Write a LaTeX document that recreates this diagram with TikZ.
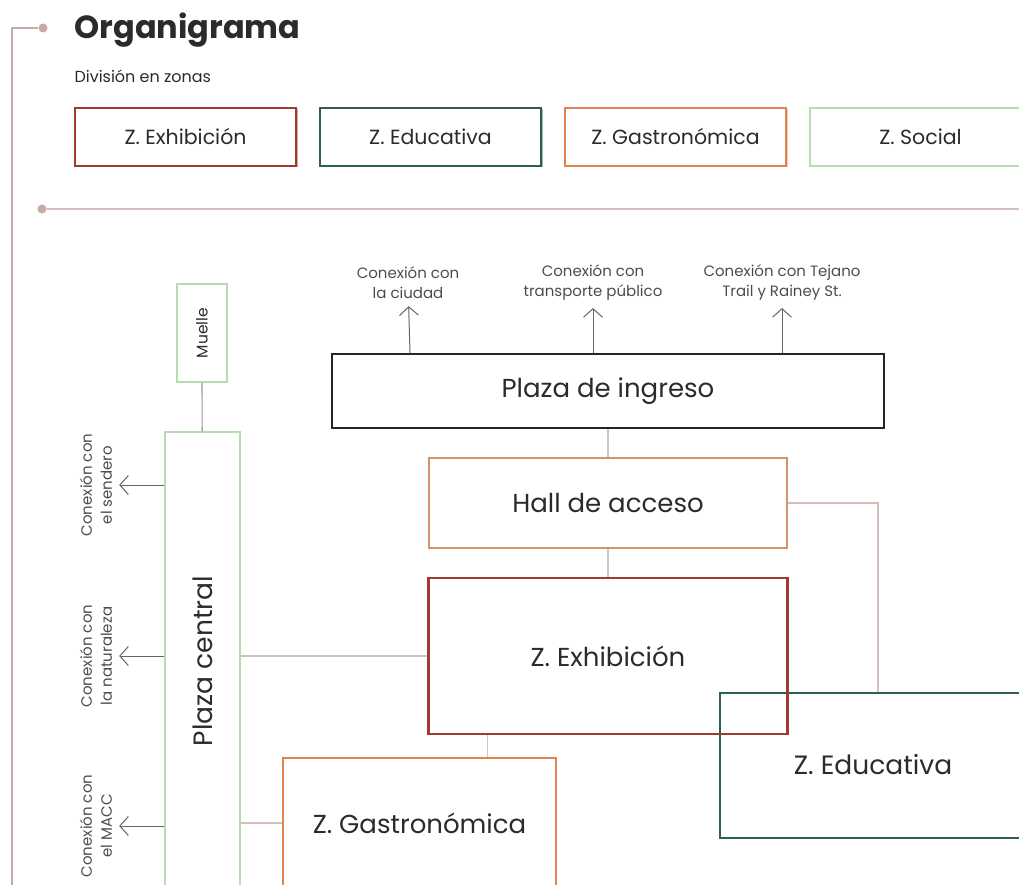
\documentclass[tikz,border=0pt]{standalone}
\usepackage{fontspec}
\setmainfont{Poppins}
\usetikzlibrary{positioning,arrows.meta,shadows}

\definecolor{exhib}{HTML}{9E3B2C}
\definecolor{educ}{HTML}{2F5D57}
\definecolor{gastro}{HTML}{E0854F}
\definecolor{social}{HTML}{B5DDB0}
\definecolor{hall}{HTML}{D4936B}
\definecolor{linea}{HTML}{D6C0BB}
\definecolor{deco}{HTML}{C9A9A3}
\definecolor{texto}{HTML}{2B2B2B}

\tikzset{
  zona/.style={draw=#1, line width=1.5pt, fill=white, minimum width=221pt,
    minimum height=58pt, text=texto, font=\fontsize{20.5}{24}\selectfont,
    drop shadow={shadow xshift=1.5pt, shadow yshift=-1.5pt, fill=#1, opacity=.45}},
  caja/.style={draw=#1, line width=1.5pt, text=texto, font=\fontsize{26}{30}\selectfont},
  conn/.style={draw=linea, line width=1.2pt},
  flecha/.style={draw=black!60, line width=1pt, ->, shorten >=5pt},
  lbl/.style={text=black!70, font=\fontsize{15}{20}\selectfont, align=center, inner sep=2pt},
  punto/.style={circle, fill=deco, inner sep=0pt, minimum size=9pt},
}

\begin{document}
\begin{tikzpicture}[x=1pt,y=-1pt,on grid,>={Straight Barb[length=8.5pt,width=19pt]}]
\useasboundingbox (0,0) rectangle (1019,885);
\clip (0,0) rectangle (1019,885);

% encabezado
\node[punto] (p_1) at (43,28) {};
\node[punto] (p_2) at (42,209) {};
\draw[deco, line width=1.2pt] (p_1) -- (12,28) -- (12,885);
\draw[linea, line width=1.2pt] (p_2) -- (1019,209);
\node[anchor=west, text=texto, font=\fontsize{32}{38}\selectfont\bfseries] (titulo) at (71,30) {Organigrama};
\node[anchor=west, text=texto, font=\fontsize{16}{19}\selectfont] (sub) at (71,76) {División en zonas};

% division en zonas
\node[zona=exhib] (z_1) at (185.5,137) {Z. Exhibición};
\node[zona=educ] (z_2) [right=245pt of z_1] {Z. Educativa};
\node[zona=gastro] (z_3) [right=245pt of z_2] {Z. Gastronómica};
\node[zona=social] (z_4) [right=245pt of z_3] {Z. Social};

% organigrama
\node[caja=black!85, line width=1.2pt, minimum width=552pt, minimum height=74pt] (ingreso) at (608,391) {Plaza de ingreso};
\node[caja=hall, minimum width=358pt, minimum height=90pt] (hall) [below=112pt of ingreso] {Hall de acceso};
\node[caja=educ, line width=2pt, minimum width=316pt, minimum height=145pt] (educ) at (878,765.5) {};
\node[text=texto, font=\fontsize{26.5}{30}\selectfont] (educ_t) at (873,765) {Z. Educativa};
\node[caja=exhib, line width=2.5pt, minimum width=359pt, minimum height=156pt] (exhib) [below=153pt of hall] {Z. Exhibición};
\node[caja=gastro, line width=2pt, minimum width=273pt, minimum height=130pt] (gastro) at (419.5,823) {Z. Gastronómica};
\node[caja=social, minimum width=50pt, minimum height=98pt] (muelle) at (202,333) {};
\node[rotate=90, text=texto, font=\fontsize{15.5}{18}\selectfont] at (muelle) {Muelle};
\node[caja=social, minimum width=75pt, minimum height=458pt] (central) at (202.5,661) {};
\node[rotate=90, text=texto, font=\fontsize{26.5}{30}\selectfont] at (central) {Plaza central};

% conexiones
\node[lbl] (ciudad) at (408,283) {Conexión con\\la ciudad};
\node[lbl] (publico) at (593,283) {Conexión con\\transporte público};
\node[lbl] (tejano) at (782,283) {Conexión con Tejano\\Trail y Rainey St.};
\node[lbl, rotate=90] (sendero) at (96,485) {Conexión con\\el sendero};
\node[lbl, rotate=90] (natura) at (96,656) {Conexión con\\la naturaleza};
\node[lbl, rotate=90] (macc) at (96,826) {Conexión con\\el MACC};

\path (ingreso.north -| 410,0) edge[flecha] (ciudad)
      (ingreso.north -| publico) edge[flecha] (publico)
      (ingreso.north -| tejano) edge[flecha] (tejano)
      (central.west |- sendero) edge[flecha] (sendero)
      (central.west |- natura) edge[flecha] (natura)
      (central.west |- macc) edge[flecha] (macc);

\draw[draw=black!40, line width=1.2pt] (muelle) -- (central);
\path (ingreso) edge[conn] (hall)
      (hall) edge[conn] (exhib)
      (central.east |- exhib) edge[conn] (exhib.west)
      (central.east |- gastro) edge[conn] (gastro.west)
      ([xshift=-120.5pt]exhib.south) edge[conn] ([xshift=-120.5pt]exhib.south |- gastro.north);
\draw[conn] (hall.east) -| (educ.north);
\end{tikzpicture}
\end{document}
